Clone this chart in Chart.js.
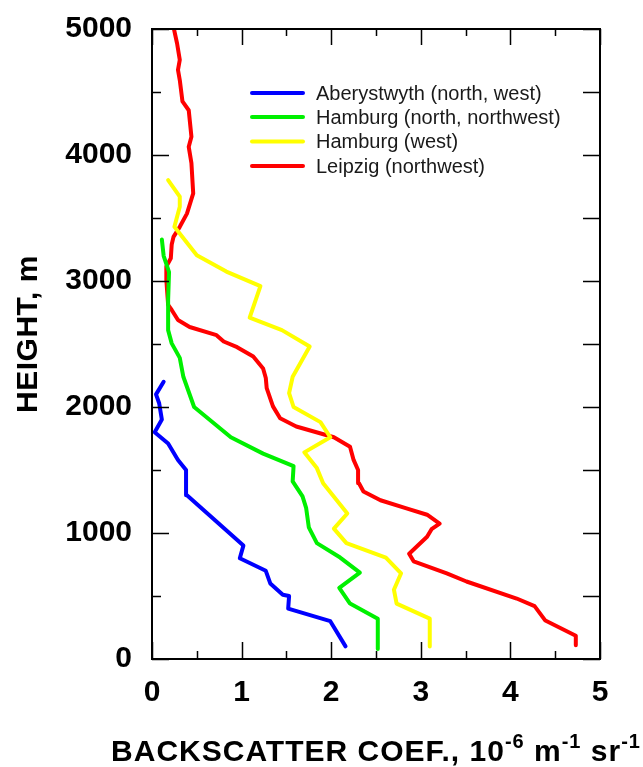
<!DOCTYPE html>
<html>
<head>
<meta charset="utf-8">
<script src="https://cdn.jsdelivr.net/npm/chart.js@4.4.1/dist/chart.umd.min.js"></script>
<style>
  html, body { margin: 0; padding: 0; background: #fff; }
</style>
</head>
<body>
<canvas id="myChart" width="643" height="767"></canvas>
<script>
// Dados (coeficiente x altura)
const seriesNames = ['Aberystwyth (north, west)', 'Hamburg (north, northwest)', 'Hamburg (west)', 'Leipzig (northwest)'];
const seriesColors = ['#0000ff', '#00f000', '#ffff00', '#ff0000'];

const aberCoef = [2.16, 1.99, 1.52, 1.53, 1.46, 1.32, 1.27, 0.98, 1.02, 0.39, 0.38, 0.29, 0.18, 0.03, 0.11, 0.08, 0.045, 0.13];
const aberHeight = [100, 300, 400, 500, 510, 600, 700, 800, 900, 1300, 1500, 1580, 1710, 1800, 1900, 2030, 2100, 2200];

const hamNCoef = [2.52, 2.52, 2.21, 2.09, 2.32, 2.10, 1.84, 1.75, 1.72, 1.68, 1.57, 1.58, 1.24, 0.88, 0.47, 0.35, 0.31, 0.22, 0.18, 0.18, 0.19, 0.13, 0.11];
const hamNHeight = [80, 320, 440, 565, 685, 805, 920, 1045, 1200, 1290, 1410, 1530, 1630, 1760, 2000, 2240, 2390, 2505, 2610, 2850, 3070, 3200, 3330];

const hamWCoef = [3.10, 3.10, 2.73, 2.70, 2.78, 2.61, 2.17, 2.03, 2.18, 1.91, 1.84, 1.70, 1.99, 1.88, 1.58, 1.53, 1.57, 1.76, 1.45, 1.09, 1.21, 0.83, 0.50, 0.41, 0.25, 0.31, 0.31, 0.18];
const hamWHeight = [100, 320, 440, 550, 680, 805, 920, 1035, 1155, 1395, 1515, 1640, 1760, 1880, 2000, 2110, 2240, 2480, 2610, 2710, 2960, 3075, 3205, 3285, 3430, 3590, 3670, 3800];

const leipCoef = [4.73, 4.73, 4.39, 4.27, 4.07, 3.51, 3.29, 2.92, 2.87, 3.07, 3.12, 3.21, 3.07, 2.84, 2.55, 2.36, 2.31, 2.30, 2.25, 2.21, 2.03, 1.61, 1.43, 1.35, 1.28, 1.27, 1.24, 1.13, 0.95, 0.80, 0.72, 0.42, 0.29, 0.22, 0.18, 0.16, 0.16, 0.21, 0.22, 0.24, 0.31, 0.39, 0.46, 0.44, 0.41, 0.44, 0.41, 0.34, 0.31, 0.29, 0.31, 0.28, 0.245];
const leipHeight = [110, 185, 305, 420, 480, 615, 680, 775, 835, 970, 1030, 1075, 1145, 1195, 1260, 1330, 1395, 1500, 1580, 1685, 1760, 1845, 1910, 2005, 2150, 2230, 2305, 2400, 2475, 2520, 2570, 2635, 2690, 2770, 2810, 3010, 3115, 3180, 3290, 3350, 3430, 3535, 3695, 3935, 4065, 4145, 4355, 4425, 4595, 4675, 4755, 4885, 5000];

// Eixos
const xTicks = [0, 1, 2, 3, 4, 5];
const yTicks = [0, 1000, 2000, 3000, 4000, 5000];
const yTitle = 'HEIGHT, m';
// titulo do eixo x em partes: [texto, sobrescrito?]
const xTitleParts = [['BACKSCATTER COEF., 10', false], ['-6', true], [' m', false], ['-1', true], [' sr', false], ['-1', true]];

const FONT = "'Liberation Sans', Arial, sans-serif";

const toPoints = (xs, ys) => xs.map((v, i) => ({ x: v, y: ys[i] }));
const allCoef = [aberCoef, hamNCoef, hamWCoef, leipCoef];
const allHeight = [aberHeight, hamNHeight, hamWHeight, leipHeight];

const datasets = seriesNames.map((name, i) => ({
    label: name,
    data: toPoints(allCoef[i], allHeight[i]),
    showLine: true,
    borderColor: seriesColors[i],
    backgroundColor: seriesColors[i],
    borderWidth: 4,
    pointRadius: 0,
    borderCapStyle: 'round',
    borderJoinStyle: 'round',
    tension: 0
}));

// Moldura com ticks para dentro, legenda e titulos
const framePlugin = {
    id: 'frame',
    afterDraw(chart) {
        const ctx = chart.ctx;
        const a = chart.chartArea;
        const xs = chart.scales.x, ys = chart.scales.y;
        ctx.save();
        ctx.strokeStyle = '#000';
        ctx.lineWidth = 2;
        ctx.strokeRect(a.left, a.top, a.right - a.left, a.bottom - a.top);

        ctx.lineWidth = 1.5;
        ctx.beginPath();
        for (let v = 0; v <= 5; v += 0.5) {
            const px = Math.round(xs.getPixelForValue(v)) + 0.5;
            const major = Number.isInteger(v);
            ctx.moveTo(px, a.bottom); ctx.lineTo(px, a.bottom - (major ? 17 : 8));
            ctx.moveTo(px, a.top); ctx.lineTo(px, a.top + (major ? 16 : 7));
        }
        for (let v = 0; v <= 5000; v += 500) {
            const py = Math.round(ys.getPixelForValue(v)) + 0.5;
            const major = v % 1000 === 0;
            ctx.moveTo(a.left, py); ctx.lineTo(a.left + (major ? 17 : 9), py);
            ctx.moveTo(a.right, py); ctx.lineTo(a.right - 17, py);
        }
        ctx.stroke();

        // legenda
        ctx.font = '20px ' + FONT;
        ctx.textBaseline = 'middle';
        ctx.textAlign = 'left';
        const rows = [93, 117, 141.5, 166];
        chart.data.datasets.forEach((ds, i) => {
            ctx.strokeStyle = ds.borderColor;
            ctx.lineWidth = 4;
            ctx.lineCap = 'round';
            ctx.beginPath();
            ctx.moveTo(252, rows[i]);
            ctx.lineTo(303, rows[i]);
            ctx.stroke();
            ctx.fillStyle = '#1a1a1a';
            ctx.fillText(ds.label, 316, rows[i] + 1);
        });

        // titulo eixo y
        ctx.fillStyle = '#000';
        ctx.save();
        ctx.translate(37, 334);
        ctx.rotate(-Math.PI / 2);
        ctx.font = 'bold 30px ' + FONT;
        ctx.letterSpacing = '0.5px';
        ctx.textAlign = 'center';
        ctx.textBaseline = 'alphabetic';
        ctx.fillText(yTitle, 0, 0);
        ctx.restore();

        // titulo eixo x com sobrescritos
        const mainFont = 'bold 30px ' + FONT;
        const supFont = 'bold 20px ' + FONT;
        ctx.letterSpacing = '1px';
        let total = 0;
        xTitleParts.forEach(([t, sup]) => {
            ctx.font = sup ? supFont : mainFont;
            total += ctx.measureText(t).width;
        });
        let x = (a.left + a.right) / 2 - total / 2;
        const base = 761;
        ctx.textAlign = 'left';
        ctx.textBaseline = 'alphabetic';
        xTitleParts.forEach(([t, sup]) => {
            ctx.font = sup ? supFont : mainFont;
            ctx.fillText(t, x, sup ? base - 13 : base);
            x += ctx.measureText(t).width;
        });
        ctx.restore();
    }
};

const ctx = document.getElementById('myChart').getContext('2d');
const myChart = new Chart(ctx, {
    type: 'scatter',
    data: { datasets: datasets },
    options: {
        responsive: false,
        animation: false,
        devicePixelRatio: 1,
        layout: { padding: { top: 29, right: 43, left: 0, bottom: 0 } },
        plugins: {
            legend: { display: false },
            tooltip: { enabled: false }
        },
        scales: {
            x: {
                type: 'linear',
                min: 0,
                max: 5,
                afterFit: (scale) => {
                    scale.height = 108;
                    scale.paddingLeft = 0;
                    scale.paddingRight = 0;
                },
                afterBuildTicks: (scale) => { scale.ticks = xTicks.map(v => ({ value: v })); },
                grid: { display: false, drawTicks: false },
                border: { display: false },
                ticks: {
                    color: '#000',
                    padding: 16,
                    maxRotation: 0,
                    autoSkip: false,
                    callback: (v) => String(v),
                    font: { family: FONT, size: 30, weight: 'bold' }
                }
            },
            y: {
                type: 'linear',
                min: 0,
                max: 5000,
                afterFit: (scale) => {
                    scale.width = 152;
                    scale.paddingTop = 0;
                    scale.paddingBottom = 0;
                },
                afterBuildTicks: (scale) => { scale.ticks = yTicks.map(v => ({ value: v })); },
                grid: { display: false, drawTicks: false },
                border: { display: false },
                ticks: {
                    color: '#000',
                    padding: 20,
                    autoSkip: false,
                    callback: (v) => String(v),
                    font: { family: FONT, size: 30, weight: 'bold' }
                }
            }
        }
    },
    plugins: [framePlugin]
});
</script>
</body>
</html>
